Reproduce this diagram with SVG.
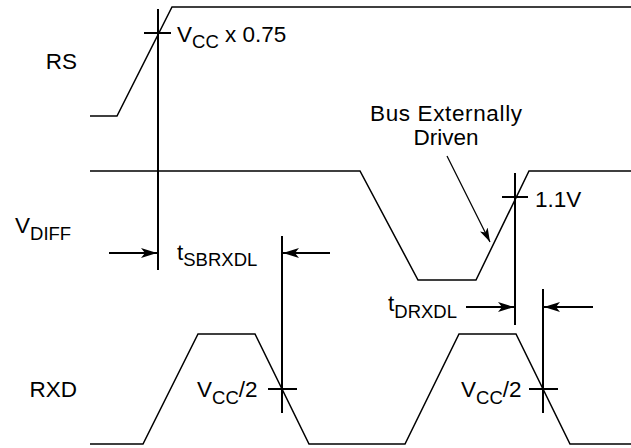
<svg xmlns="http://www.w3.org/2000/svg" width="631" height="448" viewBox="0 0 631 448">
<style>
  .sig { fill: none; stroke: #000; stroke-width: 1.5; stroke-linejoin: miter; }
  .mk { fill: none; stroke: #000; stroke-width: 2; }
  .lead { fill: none; stroke: #000; stroke-width: 1.3; }
  text { font-family: "Liberation Sans", Arial, Helvetica, sans-serif; font-size: 22.5px; fill: #000; }
  .sub { font-size: 18.5px; }
</style>
<defs>
  <marker id="arr" viewBox="0 0 16 10" refX="16" refY="5" markerWidth="16" markerHeight="10" markerUnits="userSpaceOnUse" orient="auto">
    <path d="M0,0 L16,5 L0,10 L4,5 Z" fill="#000"/>
  </marker>
  <marker id="arrs" viewBox="0 0 16 10" refX="16" refY="5" markerWidth="14" markerHeight="9" markerUnits="userSpaceOnUse" orient="auto">
    <path d="M0,0 L16,5 L0,10 L4,5 Z" fill="#000"/>
  </marker>
</defs>
<rect width="631" height="448" fill="#fff"/>

<g id="labels">
  <text x="77" y="69" text-anchor="end">RS</text>
  <text x="15" y="233">V<tspan class="sub" dy="6.5">DIFF</tspan></text>
  <text x="77" y="397" text-anchor="end">RXD</text>
</g>

<g id="rs-signal">
  <polyline class="sig" points="90,116 117,116 172,7 631,7"/>
</g>
<g id="vdiff-signal">
  <polyline class="sig" points="90,171 360,171 418,280 476,280 529,171 631,171"/>
</g>
<g id="rxd-signal">
  <polyline class="sig" points="90,444 143,444 198,334 255,334 309,444 405,444 459,334 516,334 570,444 631,444"/>
</g>

<g id="rs-threshold">
  <line class="mk" x1="158" y1="9" x2="158" y2="270"/>
  <line class="mk" x1="144" y1="33" x2="171" y2="33"/>
  <text x="177" y="41.5">V<tspan class="sub" dy="6">CC</tspan><tspan dy="-6"> x 0.75</tspan></text>
</g>

<g id="rxd-threshold-1">
  <line class="mk" x1="282" y1="236" x2="282" y2="413"/>
  <line class="mk" x1="268" y1="389" x2="297" y2="389"/>
  <text x="197" y="397">V<tspan class="sub" dy="7">CC</tspan><tspan dy="-7">/2</tspan></text>
</g>

<g id="vdiff-threshold">
  <line class="mk" x1="515" y1="173" x2="515" y2="325"/>
  <line class="mk" x1="502" y1="197" x2="528" y2="197"/>
  <text x="535" y="207">1.1V</text>
</g>

<g id="rxd-threshold-2">
  <line class="mk" x1="543" y1="289" x2="543" y2="413"/>
  <line class="mk" x1="529" y1="389" x2="558" y2="389"/>
  <text x="461" y="397">V<tspan class="sub" dy="7">CC</tspan><tspan dy="-7">/2</tspan></text>
</g>

<g id="tsbrxdl-label">
  <text x="177" y="260">t<tspan class="sub" dy="6">SBRXDL</tspan></text>
</g>
<g id="tdrxdl-label">
  <text x="388" y="311">t<tspan class="sub" dy="7">DRXDL</tspan></text>
</g>
<g id="bus-label">
  <text x="446" y="121" text-anchor="middle" textLength="152" lengthAdjust="spacing">Bus Externally</text>
  <text x="446" y="145" text-anchor="middle">Driven</text>
</g>

<g id="connectors">
  <line class="mk" x1="109" y1="253" x2="157" y2="253" marker-end="url(#arr)"/>
  <line class="mk" x1="330" y1="253" x2="283" y2="253" marker-end="url(#arr)"/>
  <line class="mk" x1="466" y1="307" x2="514" y2="307" marker-end="url(#arr)"/>
  <line class="mk" x1="593" y1="307" x2="544" y2="307" marker-end="url(#arr)"/>
  <line class="lead" x1="447" y1="156" x2="490" y2="242" marker-end="url(#arrs)"/>
</g>
</svg>
